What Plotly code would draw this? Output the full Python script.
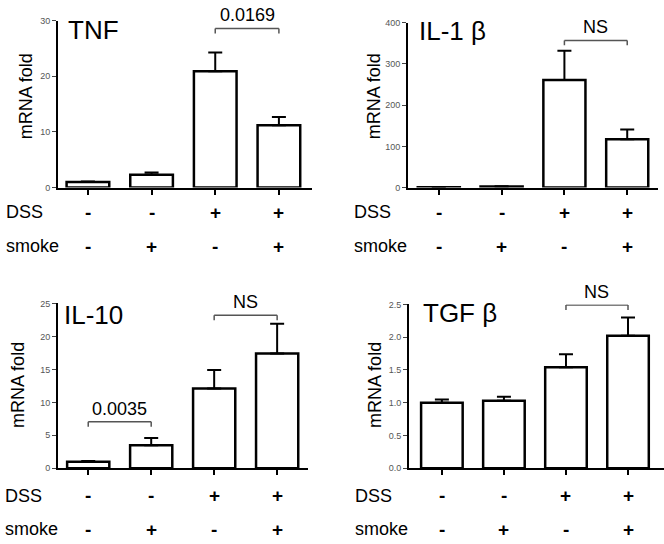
import plotly.graph_objects as go

# Data (mean mRNA fold, upper error = SEM)
groups = [0, 1, 2, 3]
dss_signs = ['-', '-', '+', '+']
smoke_signs = ['-', '+', '-', '+']

tnf_vals = [1.0, 2.3, 20.9, 11.2]
tnf_err = [0.1, 0.4, 3.4, 1.5]

il1b_vals = [1.0, 2.5, 261, 117]
il1b_err = [0.3, 0.5, 71, 24]

il10_vals = [1.0, 3.5, 12.1, 17.4]
il10_err = [0.1, 1.1, 2.8, 4.5]

tgfb_vals = [1.0, 1.03, 1.54, 2.02]
tgfb_err = [0.05, 0.06, 0.2, 0.28]

FONT = 'Liberation Sans, Arial, sans-serif'
W, H = 664, 544

# panel: title, values, errors, y range, y ticks, x px span, y px span (top, bottom), x range,
#        brackets (x0, x1, y, label), title px pos, ylabel px pos, row label x px, row y px
panels = [
    dict(title='TNF', vals=tnf_vals, err=tnf_err, yr=[0, 30], yt=[0, 10, 20, 30], fmt='d',
         xpx=(58, 312), ypx=(16, 186), xr=[-0.47, 3.52],
         brackets=[(2, 3, 28.6, '0.0169')], tpos=(66, 25), lpos=(26, 93),
         rowlab_x=4, rows=(211, 246)),
    dict(title='IL-1 β', vals=il1b_vals, err=il1b_err, yr=[0, 400], yt=[0, 100, 200, 300, 400], fmt='d',
         xpx=(408, 658), ypx=(18, 186), xr=[-0.49, 3.49],
         brackets=[(2, 3, 357, 'NS')], tpos=(417, 26), lpos=(374, 93),
         rowlab_x=352, rows=(211, 246)),
    dict(title='IL-10', vals=il10_vals, err=il10_err, yr=[0, 25], yt=[0, 5, 10, 15, 20, 25], fmt='d',
         xpx=(58, 308), ypx=(304, 472), xr=[-0.48, 3.49],
         brackets=[(0, 1, 7.05, '0.0035'), (2, 3, 23.2, 'NS')], tpos=(62, 316), lpos=(18, 387),
         rowlab_x=3, rows=(500, 534)),
    dict(title='TGF β', vals=tgfb_vals, err=tgfb_err, yr=[0, 2.5], yt=[0, 0.5, 1.0, 1.5, 2.0, 2.5], fmt='.1f',
         xpx=(409, 664), ypx=(305, 472), xr=[-0.53, 3.58],
         brackets=[(2, 3, 2.49, 'NS')], tpos=(421, 314), lpos=(375, 387),
         rowlab_x=353, rows=(500, 534)),
]


def px_x(p):
    return p / W


def px_y(p):
    return 1 - p / H


fig = go.Figure()
annotations = []
shapes = []

for i, p in enumerate(panels):
    n = '' if i == 0 else str(i + 1)
    xa, ya = 'x' + n, 'y' + n

    fig.add_trace(go.Bar(
        x=groups, y=p['vals'], width=0.67,
        marker=dict(color='white', line=dict(color='black', width=2.5)),
        error_y=dict(type='data', array=p['err'], arrayminus=[0] * 4, symmetric=False,
                     color='black', thickness=2, width=7),
        xaxis=xa, yaxis=ya, showlegend=False, hoverinfo='skip'))

    fig.layout['xaxis' + n] = dict(
        domain=[px_x(p['xpx'][0]), px_x(p['xpx'][1])], range=p['xr'], anchor=ya,
        showline=True, linecolor='black', linewidth=2, showgrid=False, zeroline=False,
        tickvals=groups, showticklabels=False, ticks='outside', ticklen=5, tickwidth=1.5,
        tickcolor='black', fixedrange=True)
    fig.layout['yaxis' + n] = dict(
        domain=[px_y(p['ypx'][1]), px_y(p['ypx'][0])], range=p['yr'], anchor=xa,
        showline=True, linecolor='black', linewidth=2, showgrid=False, zeroline=False,
        tickvals=p['yt'], tickformat=p['fmt'], ticks='outside', ticklen=4, tickwidth=1,
        tickcolor='#444', tickfont=dict(size=9, color='#555', family=FONT), fixedrange=True)

    # panel title
    annotations.append(dict(text=p['title'], xref='paper', yref='paper',
                            x=px_x(p['tpos'][0]), y=px_y(p['tpos'][1]),
                            xanchor='left', yanchor='middle', showarrow=False,
                            font=dict(size=26, color='black', family=FONT)))
    # y label
    annotations.append(dict(text='mRNA fold', xref='paper', yref='paper',
                            x=px_x(p['lpos'][0]), y=px_y(p['lpos'][1]), textangle=-90,
                            xanchor='center', yanchor='middle', showarrow=False,
                            font=dict(size=18, color='black', family=FONT)))

    # DSS / smoke rows
    for label, signs, ry in [('DSS', dss_signs, p['rows'][0]), ('smoke', smoke_signs, p['rows'][1])]:
        annotations.append(dict(text=label, xref='paper', yref='paper',
                                x=px_x(p['rowlab_x']), y=px_y(ry), xanchor='left', yanchor='middle',
                                showarrow=False, font=dict(size=18, color='black', family=FONT)))
        for g, s in zip(groups, signs):
            annotations.append(dict(text='<b>' + s + '</b>', xref=xa, yref='paper', x=g, y=px_y(ry),
                                    xanchor='center', yanchor='middle', showarrow=False,
                                    font=dict(size=19, color='black', family=FONT)))

    # significance brackets
    span = p['yr'][1] - p['yr'][0]
    hpx = p['ypx'][1] - p['ypx'][0]
    tick = 5 * span / hpx
    for x0, x1, by, lab in p['brackets']:
        shapes.append(dict(type='line', xref=xa, yref=ya, x0=x0, x1=x1, y0=by, y1=by,
                           line=dict(color='#555', width=1.5)))
        for xe in (x0, x1):
            shapes.append(dict(type='line', xref=xa, yref=ya, x0=xe, x1=xe, y0=by, y1=by - tick,
                               line=dict(color='#555', width=1.5)))
        annotations.append(dict(text=lab, xref=xa, yref=ya, x=(x0 + x1) / 2, y=by,
                                xanchor='center', yanchor='bottom', yshift=1, showarrow=False,
                                font=dict(size=18, color='black', family=FONT)))

fig.update_layout(
    width=W, height=H,
    margin=dict(l=0, r=0, t=0, b=0),
    plot_bgcolor='white', paper_bgcolor='white',
    annotations=annotations, shapes=shapes,
    font=dict(family=FONT),
)

# drop the default 8px body margin so the figure fills the window
fig.write_html("out.html", config={'displayModeBar': False},
               post_script="document.body.style.margin='0';document.body.style.overflow='hidden';")
